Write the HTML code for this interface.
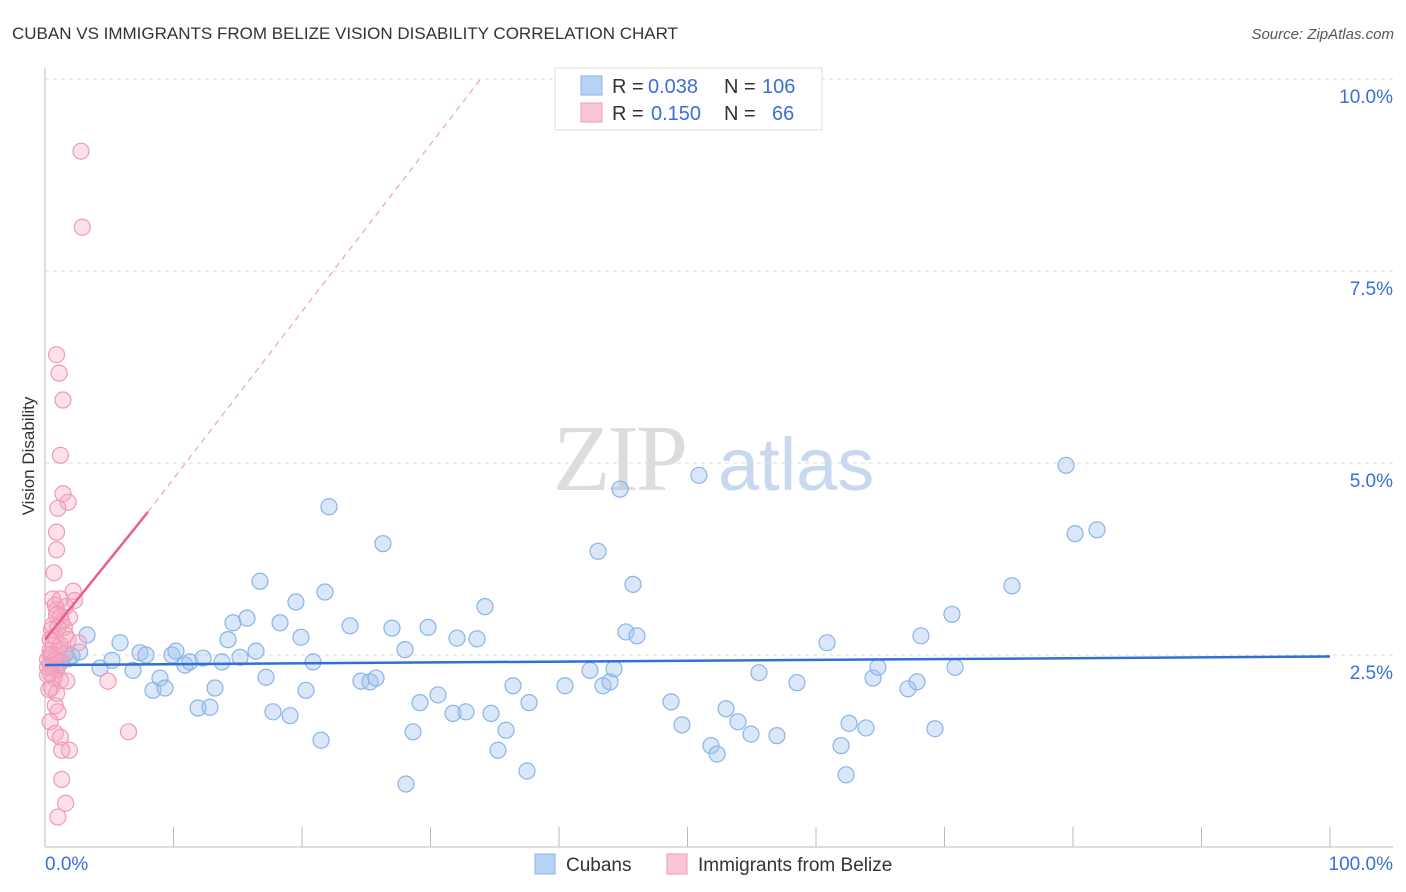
<!DOCTYPE html>
<html><head><meta charset="utf-8">
<style>
body{margin:0;background:#fff;font-family:"Liberation Sans",sans-serif;}
#wrap{position:relative;width:1406px;height:892px;overflow:hidden;}
</style></head>
<body>
<div id="wrap">
<svg id="chart" width="1406" height="892" font-family="Liberation Sans, sans-serif">
<text x="12" y="39" font-size="17" fill="#333">CUBAN VS IMMIGRANTS FROM BELIZE VISION DISABILITY CORRELATION CHART</text>
<text x="1394" y="39" font-size="15" fill="#555" font-style="italic" text-anchor="end">Source: ZipAtlas.com</text>
<text x="34" y="456" font-size="17" fill="#333" text-anchor="middle" transform="rotate(-90 34 456)">Vision Disability</text>
<g>
<text x="553" y="490" font-size="94" fill="#dcdcdc" style="font-family:'Liberation Serif',serif" letter-spacing="-3">ZIP</text>
<text x="718" y="490" font-size="74" fill="#c8d8ee">atlas</text>
</g>
<g id="grid"></g><g id="marks"></g>
<g>
<rect x="555" y="68" width="267" height="62" fill="#fff" stroke="#ddd"/>
<rect x="581" y="76" width="21" height="19" fill="#b8d2f4" stroke="#8ab4e8"/>
<rect x="581" y="103" width="21" height="19" fill="#f8c6d5" stroke="#f09ab5"/>
<text x="612" y="93" font-size="20" fill="#333">R =</text>
<text x="648" y="93" font-size="20" fill="#3a6fd8">0.038</text>
<text x="724" y="93" font-size="20" fill="#333">N =</text>
<text x="762" y="93" font-size="20" fill="#3a6fd8">106</text>
<text x="612" y="120" font-size="20" fill="#333">R =</text>
<text x="651" y="120" font-size="20" fill="#3a6fd8">0.150</text>
<text x="724" y="120" font-size="20" fill="#333">N =</text>
<text x="772" y="120" font-size="20" fill="#3a6fd8">66</text>
</g>
<g>
<rect x="535" y="854" width="20" height="20" fill="#b8d2f4" stroke="#8ab4e8"/>
<text x="566" y="871" font-size="19" fill="#333">Cubans</text>
<rect x="667" y="854" width="20" height="20" fill="#f8c6d5" stroke="#f09ab5"/>
<text x="698" y="871" font-size="19" fill="#333">Immigrants from Belize</text>
</g>
</svg>
</div>
<script>
const yTicks=[2.5,5.0,7.5,10.0];
const yTickLabels=["2.5%","5.0%","7.5%","10.0%"];
const xTickLabels=["0.0%","100.0%"];
const cubansX=[3.27,4.28,5.84,5.21,6.85,7.39,7.86,8.40,8.95,9.34,9.88,10.19,10.89,11.28,11.91,12.30,12.84,13.23,13.77,14.24,14.63,15.18,15.72,16.42,16.73,17.20,17.74,18.29,19.07,19.53,19.92,20.31,20.86,21.48,21.79,22.10,23.74,24.59,25.29,25.76,26.30,27.00,28.02,28.09,28.64,29.18,29.81,30.58,31.75,32.06,32.76,33.62,34.24,34.71,35.25,35.88,36.42,37.51,37.67,40.47,42.41,43.04,43.42,43.97,44.28,44.75,45.21,45.76,46.07,48.72,49.57,50.89,51.83,52.30,53.00,53.93,54.94,55.56,56.96,58.52,60.86,61.95,62.34,62.57,63.89,64.44,64.82,67.16,67.86,68.17,69.26,70.58,70.82,75.25,79.46,80.16,81.87,0.9,1.3,1.6,2.1,2.7,0.4,0.8,1.8];
const cubansY=[2.76,2.33,2.66,2.43,2.30,2.53,2.50,2.04,2.20,2.07,2.50,2.55,2.37,2.41,1.81,2.46,1.82,2.07,2.41,2.70,2.92,2.47,2.98,2.55,3.46,2.21,1.76,2.92,1.71,3.19,2.73,2.04,2.41,1.39,3.32,4.43,2.88,2.16,2.15,2.20,3.95,2.85,2.57,0.82,1.50,1.88,2.86,1.98,1.74,2.72,1.76,2.71,3.13,1.74,1.26,1.52,2.10,0.99,1.88,2.10,2.30,3.85,2.10,2.15,2.32,4.66,2.80,3.42,2.75,1.89,1.59,4.84,1.32,1.21,1.80,1.63,1.47,2.27,1.45,2.14,2.66,1.32,0.94,1.61,1.55,2.20,2.34,2.06,2.15,2.75,1.54,3.03,2.34,3.40,4.97,4.08,4.13,2.50,2.43,2.51,2.49,2.54,2.38,2.33,2.45];
const belizeX=[2.8,2.9,0.9,1.1,1.4,1.2,1.4,1.8,1.0,0.9,0.9,0.7,0.6,0.8,0.9,1.6,2.2,1.2,1.3,1.5,0.5,0.8,1.8,2.6,0.6,1.0,1.6,0.4,0.8,1.2,0.5,0.9,0.4,0.7,1.2,1.7,4.9,0.5,0.9,0.8,1.0,0.4,0.8,1.2,1.9,1.3,1.3,1.6,1.0,6.5,0.4,0.2,0.2,0.3,0.6,0.9,1.2,0.5,0.8,0.4,0.2,1.2,1.6,1.0,1.9,2.3];
const belizeY=[9.06,8.07,6.41,6.17,5.82,5.10,4.60,4.49,4.41,4.10,3.87,3.57,3.23,3.15,3.09,3.13,3.33,3.00,2.93,2.86,2.83,2.74,2.70,2.66,2.62,2.55,2.53,2.50,2.43,2.40,2.34,2.30,2.26,2.20,2.17,2.16,2.16,2.07,2.00,1.84,1.76,1.63,1.48,1.43,1.26,1.26,0.88,0.57,0.39,1.50,2.70,2.44,2.24,2.05,2.89,3.02,3.23,2.51,2.44,2.56,2.34,2.63,2.76,2.86,2.99,3.21];
const X=v=>45+v*12.85, Y=v=>847-v*76.8;
const NS="http://www.w3.org/2000/svg";
function mk(tag,at,parent){const e=document.createElementNS(NS,tag);for(const k in at)e.setAttribute(k,at[k]);parent.appendChild(e);return e;}
const grid=document.getElementById('grid'),marks=document.getElementById('marks');
yTicks.forEach((t,i)=>{
 const g=mk('line',{x1:45,x2:1393,y1:Y(t),y2:Y(t),stroke:'#ddd','stroke-dasharray':'4,4'},grid);
 
 
 const tx=mk('text',{x:1393,y:Y(t)+24,'font-size':19,fill:'#3a6fd8','text-anchor':'end'},grid);
 tx.textContent=yTickLabels[i];
 
 
});
const ax=mk('line',{x1:45,x2:45,y1:68,y2:847,stroke:'#bbb'},grid);


const bx=mk('line',{x1:45,x2:1393,y1:847,y2:847,stroke:'#bbb'},grid);


for(let i=0;i<=10;i++){const t=mk('line',{x1:X(i*10),x2:X(i*10),y1:827,y2:847,stroke:'#bbb'},grid);
 
 }
[[0,'start',45],[100,'end',1393]].forEach((d,i)=>{const t=mk('text',{x:d[2],y:870,'font-size':19,fill:'#3a6fd8','text-anchor':d[1]},grid);t.textContent=xTickLabels[i];
 
 });
cubansX.forEach((x,i)=>{const c=mk('circle',{cx:X(x),cy:Y(cubansY[i]),r:8,fill:'rgba(160,196,240,0.4)',stroke:'#8ab4e8','stroke-width':1.2},marks);
 
 });
belizeX.forEach((x,i)=>{const c=mk('circle',{cx:X(x),cy:Y(belizeY[i]),r:8,fill:'rgba(245,170,195,0.35)',stroke:'#f09ab5','stroke-width':1.2},marks);
 
 });
const bl=mk('line',{x1:X(0),y1:Y(2.37),x2:X(100),y2:Y(2.48),stroke:'#2f6fd6','stroke-width':2.5},marks);


const pd=mk('line',{x1:X(8),y1:Y(4.36),x2:X(33.9),y2:Y(10.0),stroke:'#f0a0b8','stroke-width':1.2,'stroke-dasharray':'6,5'},marks);


const pl=mk('line',{x1:X(0),y1:Y(2.7),x2:X(8),y2:Y(4.36),stroke:'#e8608a','stroke-width':2.5},marks);


</script>
</body></html>
